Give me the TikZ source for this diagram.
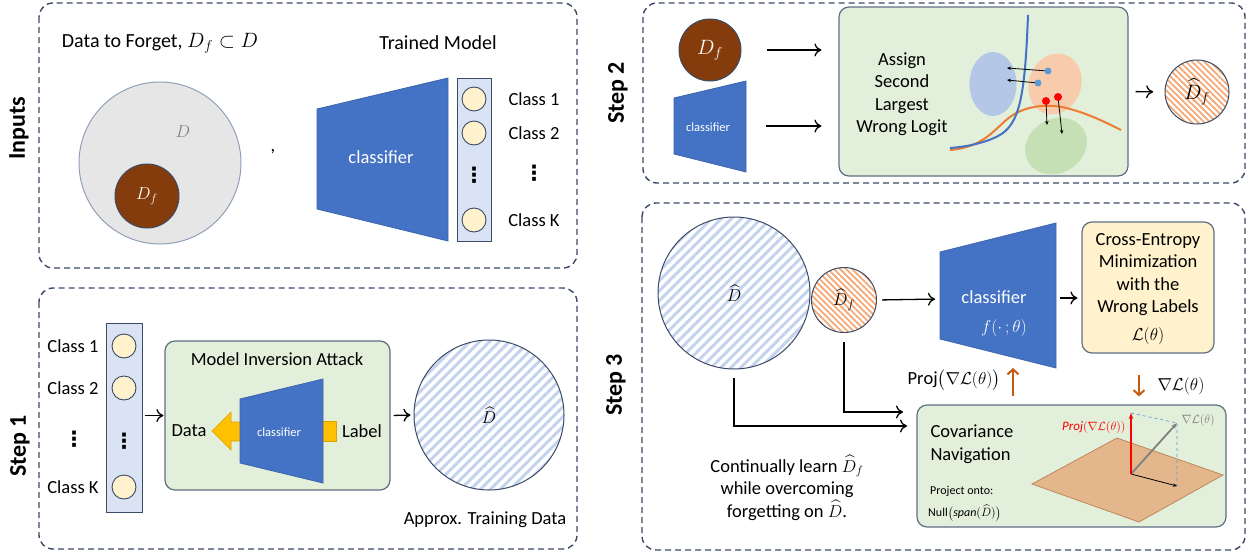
\documentclass[tikz,border=0pt]{standalone}
\usepackage{amsmath}
\usepackage{fontspec}
\setmainfont{Carlito}
\newfontfamily\dotsfont{DejaVu Sans}
\usetikzlibrary{arrows.meta,patterns.meta,positioning}

\definecolor{panelline}{HTML}{3B4A66}
\definecolor{diskgray}{HTML}{E7E6E6}
\definecolor{diskline}{HTML}{8FA0B8}
\definecolor{dgray}{HTML}{808080}
\definecolor{forgetbrown}{HTML}{843C0C}
\definecolor{clfblue}{HTML}{4472C4}
\definecolor{clfedge}{HTML}{3C64AD}
\definecolor{layerblue}{HTML}{DAE3F3}
\definecolor{neuron}{HTML}{FFF2CC}
\definecolor{boxgreen}{HTML}{E2EFDA}
\definecolor{boxline}{HTML}{5F6E84}
\definecolor{arrowyellow}{HTML}{FFC000}
\definecolor{arrowedge}{HTML}{D9A400}
\definecolor{stripeblue}{HTML}{C3D3EE}
\definecolor{stripeorange}{HTML}{F4A977}
\definecolor{blobblue}{HTML}{B4C7E7}
\definecolor{bloborange}{HTML}{F8CBAD}
\definecolor{blobgreen}{HTML}{C5E0B4}
\definecolor{curveorange}{HTML}{ED7D31}
\definecolor{dotblue}{HTML}{5B9BD5}
\definecolor{gradorange}{HTML}{C55A11}
\definecolor{planetan}{HTML}{E3B68C}
\definecolor{planeline}{HTML}{C0875A}

\tikzset{
  panel/.style={draw=panelline, line width=1.4pt, dash pattern=on 6pt off 4pt, rounded corners=14pt},
  steplabel/.style={rotate=90, font=\fontsize{24}{28}\selectfont\bfseries},
  txt/.style={font=\fontsize{18.5}{22.5}\selectfont},
  titletxt/.style={font=\fontsize{20}{24}\selectfont},
  smalltxt/.style={font=\fontsize{12}{15}\selectfont, inner sep=1pt},
  vdotstxt/.style={font=\fontsize{21}{24}\dotsfont\bfseries, inner sep=0pt},
  clf/.style={fill=clfblue, draw=clfedge, line width=0.8pt},
  clftext/.style={text=white, font=\fontsize{18.5}{22}\selectfont},
  clftiny/.style={text=white, font=\fontsize{12.5}{15}\selectfont},
  layer/.style={draw=panelline, fill=layerblue, line width=1pt, inner sep=0pt},
  neuron/.style={circle, draw=panelline, fill=neuron, line width=0.9pt, minimum size=24, inner sep=0pt},
  greenbox/.style={draw=boxline, fill=boxgreen, line width=1.2pt, rounded corners=10pt, inner sep=0pt},
  databall/.style={circle, draw=panelline, line width=1pt, inner sep=0pt},
  hatchD/.style={databall, pattern={Lines[angle=45,distance=7pt,line width=3pt]}, pattern color=stripeblue},
  hatchDf/.style={databall, pattern={Lines[angle=-45,distance=4.3pt,line width=1.8pt]}, pattern color=stripeorange},
  arr/.style={-{To[length=7pt,width=13pt]}, line width=1.3pt},
  thinarr/.style={-{Stealth[length=4pt,width=3.5pt]}, line width=0.8pt},
  grad/.style={-{Straight Barb[length=5pt,width=11pt]}, line width=2pt, gradorange},
}

\begin{document}
\begin{tikzpicture}[x=1pt,y=-1pt]
\useasboundingbox (0,0) rectangle (1252,554);

% dashed frames and their labels
\draw[panel] (39,3) rectangle (577,268);
\draw[panel] (39,288) rectangle (577,549);
\draw[panel] (643,3) rectangle (1245,183);
\draw[panel] (642,203) rectangle (1245,550);
\node[steplabel] (lblinputs) at (19,128) {Inputs};
\node[steplabel] (lblstep1) at (20,446) {Step 1};
\node[steplabel] (lblstep2) at (618,93) {Step 2};
\node[steplabel] (lblstep3) at (616,385) {Step 3};

% ---- inputs
\node[titletxt] (forgettitle) at (160,43) {Data to Forget, $D_f\subset D$};
\node[titletxt] (modeltitle) at (438,43) {Trained Model};
\node[databall, draw=diskline, fill=diskgray, minimum size=162] (dall) at (160,163) {};
\node[txt, text=dgray] (dalllbl) at (183,132) {$D$};
\node[databall, fill=forgetbrown, minimum size=64, text=white, txt] (dforget) at (147,196) {$D_f$};
\node[txt] (sep) at (273,152) {,};
\draw[clf] (317,109) -- (448,78) -- (448,241) -- (317,209) -- cycle;
\node[clftext] (clf0) at (381,157) {classifier};
\node[layer, minimum width=34, minimum height=163] (outlayer0) at (474,159.5) {};
\foreach \y/\k in {99/1,133/2,220/K}{
  \node[neuron] (n0\k) at (474,\y) {};
  \node[txt] (c0\k) at (534,\y) {Class \k};
}
\node[vdotstxt] (vd0a) at (474,175) {⋮};
\node[vdotstxt] (vd0b) at (534,173) {⋮};

% ---- step 1: model inversion
\node[layer, minimum width=36, minimum height=189] (outlayer1) at (124,417.5) {};
\foreach \y/\k in {346/1,388/2,487/K}{
  \node[neuron] (n1\k) at (124,\y) {};
  \node[txt] (c1\k) at (73,\y) {Class \k};
}
\node[vdotstxt] (vd1a) at (124,441) {⋮};
\node[vdotstxt] (vd1b) at (74,439) {⋮};
\node[greenbox, minimum width=225, minimum height=149] (mia) at (277.5,415.5) {};
\node[txt] (miatitle) at (277,359) {Model Inversion Attack};
\filldraw[fill=arrowyellow, draw=arrowedge, line width=0.6pt] (212,431) -- (231,412) -- (231,422) -- (252,422) -- (252,441) -- (231,441) -- (231,450) -- cycle;
\filldraw[fill=arrowyellow, draw=arrowedge, line width=0.6pt] (318,421) rectangle (336,441);
\draw[clf] (240,399) -- (323,379) -- (323,483) -- (240,463) -- cycle;
\node[clftiny] (clf1) at (279,432) {classifier};
\node[txt] (datalbl) at (189,431) {Data};
\node[txt] (labellbl) at (362,431) {Label};
\node[hatchD, minimum size=150, txt] (dhat1) at (489,415) {$\widehat{D}$};
\node[txt] (approx) at (485,520) {Approx. Training Data};
\draw[arr, shorten <=2pt, shorten >=1pt] (outlayer1.east |- mia.west) -- (mia.west);
\draw[arr, shorten <=3pt, shorten >=2pt] (mia.east) -- (dhat1.west);

% ---- step 2: relabel the forget set
\node[databall, fill=forgetbrown, minimum size=62, text=white, font=\fontsize{22}{26}\selectfont] (dforget2) at (710,50) {$D_f$};
\draw[clf] (674,98) -- (746,81) -- (746,172) -- (674,154) -- cycle;
\node[clftiny] (clf2) at (708,127) {classifier};
\coordinate (clf2out) at (746,126);
\node[greenbox, minimum width=289, minimum height=169] (relabel) at (983.5,91.5) {};
\node[txt, align=center] (assign) at (902,94) {Assign\\Second\\Largest\\Wrong Logit};
\draw[arr, shorten <=25pt, shorten >=17pt] (dforget2.east) -- (relabel.west |- dforget2.east);
\draw[arr, shorten <=20pt, shorten >=17pt] (clf2out) -- (relabel.west |- clf2out);
% class regions and decision boundaries
\fill[blobblue] (993,84) ellipse [x radius=23.5, y radius=32];
\fill[bloborange, rotate around={-20:(1055,84)}] (1055,84) ellipse [x radius=26, y radius=31];
\fill[blobgreen, rotate around={30:(1056,146)}] (1056,146) ellipse [x radius=32, y radius=27];
\draw[curveorange, line width=2pt] (950,150) .. controls (985,147) and (995,128) .. (1010,117) .. controls (1025,106) and (1045,104) .. (1062,107) .. controls (1085,112) and (1105,122) .. (1121,130);
\draw[clfblue, line width=2pt] (1028,15) .. controls (1025,95) and (1020,125) .. (998,136) .. controls (985,143) and (965,147) .. (950,148);
\draw[thinarr] (1048,71) -- (1007,68);
\draw[thinarr] (1038,83) -- (1007,80);
\draw[thinarr] (1046,101) -- (1047,125);
\draw[thinarr] (1058,97) -- (1062,134);
\fill[dotblue] (1048,71) circle[radius=3.5];
\fill[dotblue] (1038,83) circle[radius=3.5];
\fill[red] (1046,101) circle[radius=4];
\fill[red] (1058,97) circle[radius=4];
\node[hatchDf, minimum size=64, font=\fontsize{20}{24}\selectfont] (dfhat2) at (1197,92) {$\widehat{D}_f$};
\draw[arr, shorten <=7pt, shorten >=11pt] (relabel.east) -- (dfhat2.west);

% ---- step 3: unlearning with covariance navigation
\node[hatchD, minimum size=152, txt] (dhat3) at (734,293) {$\widehat{D}$};
\node[hatchDf, minimum size=65, txt] (dfhat3) at (844,300) {$\widehat{D}_f$};
\draw[clf] (940,252) -- (1056,223) -- (1056,368) -- (940,339) -- cycle;
\node[clftext] (clf3) at (994,297) {classifier};
\node[clftext] (clf3f) at (1004,328) {$f(\cdot\,;\theta)$};
\coordinate (clf3in) at (940,299);
\coordinate (clf3out) at (1056,298);
\coordinate (clf3base) at (1013,357);
\node[greenbox, fill=neuron, minimum width=132, minimum height=131] (ce) at (1148,287.5) {};
\node[txt, align=center] (cetext) at (1148,289) {Cross-Entropy\\Minimization\\with the\\Wrong Labels\\[5pt]$\mathcal{L}(\theta)$};
\node[greenbox, minimum width=309, minimum height=122] (cov) at (1071.5,466) {};
\node[txt, align=left, anchor=west] (covtitle) at (927,444) {Covariance\\Navigation};
\node[smalltxt, anchor=west] (projonto) at (929,491) {Project onto:};
\node[smalltxt, anchor=west] (nullsp) at (927,513) {$\mathrm{Null}\bigl(\mathit{span}(\widehat{D})\bigr)$};
\filldraw[fill=planetan, draw=planeline, line width=0.8pt] (1032,484) -- (1117,438) -- (1223,475) -- (1139,522) -- cycle;
\coordinate (vo) at (1131,474);
\coordinate (vproj) at (1131,413);
\coordinate (vgrad) at (1177,423);
\coordinate (vflat) at (1177,486);
\draw[dashed, dotblue, line width=0.7pt] (vproj) -- (vgrad) -- (vflat);
\draw[thinarr] (vo) -- (vflat);
\draw[-{Stealth[length=6pt]}, gray, line width=1.8pt] (vo) -- (vgrad);
\draw[-{Stealth[length=6pt]}, red, line width=2pt] (vo) -- (vproj);
\node[font=\fontsize{13}{15}\selectfont, text=red, anchor=east] (projred) at (1129,427) {$\mathit{Proj}(\nabla\mathcal{L}(\theta))$};
\node[font=\fontsize{13}{15}\selectfont, text=gray, anchor=west] (gradgray) at (1178,420) {$\nabla\mathcal{L}(\theta)$};
\draw[arr, shorten <=5pt, shorten >=5pt] (dfhat3.east) -- (clf3in);
\draw[arr, shorten <=4pt, shorten >=4pt] (clf3out) -- (ce.west |- clf3out);
\draw[grad, shorten <=21pt, shorten >=8pt] ([xshift=-9pt]ce.south) -- ([xshift=-9pt]ce.south |- cov.north);
\draw[grad, shorten <=8pt, shorten >=11pt] (clf3base |- cov.north) -- (clf3base);
\node[txt] (gradlbl) at (1181,386) {$\nabla\mathcal{L}(\theta)$};
\node[txt] (projlbl) at (954,380) {$\mathrm{Proj}\bigl(\nabla\mathcal{L}(\theta)\bigr)$};
\coordinate (covin1) at (917,412);
\coordinate (covin2) at (917,426);
\draw[arr, shorten <=9pt, shorten >=14pt] (dfhat3.south) |- (covin1);
\draw[arr, shorten <=8pt, shorten >=10pt] (dhat3.south) |- (covin2);
\node[txt, align=center] (continual) at (787,488) {Continually learn $\widehat{D}_f$\\while overcoming\\forgetting on $\widehat{D}$.};
\end{tikzpicture}
\end{document}
